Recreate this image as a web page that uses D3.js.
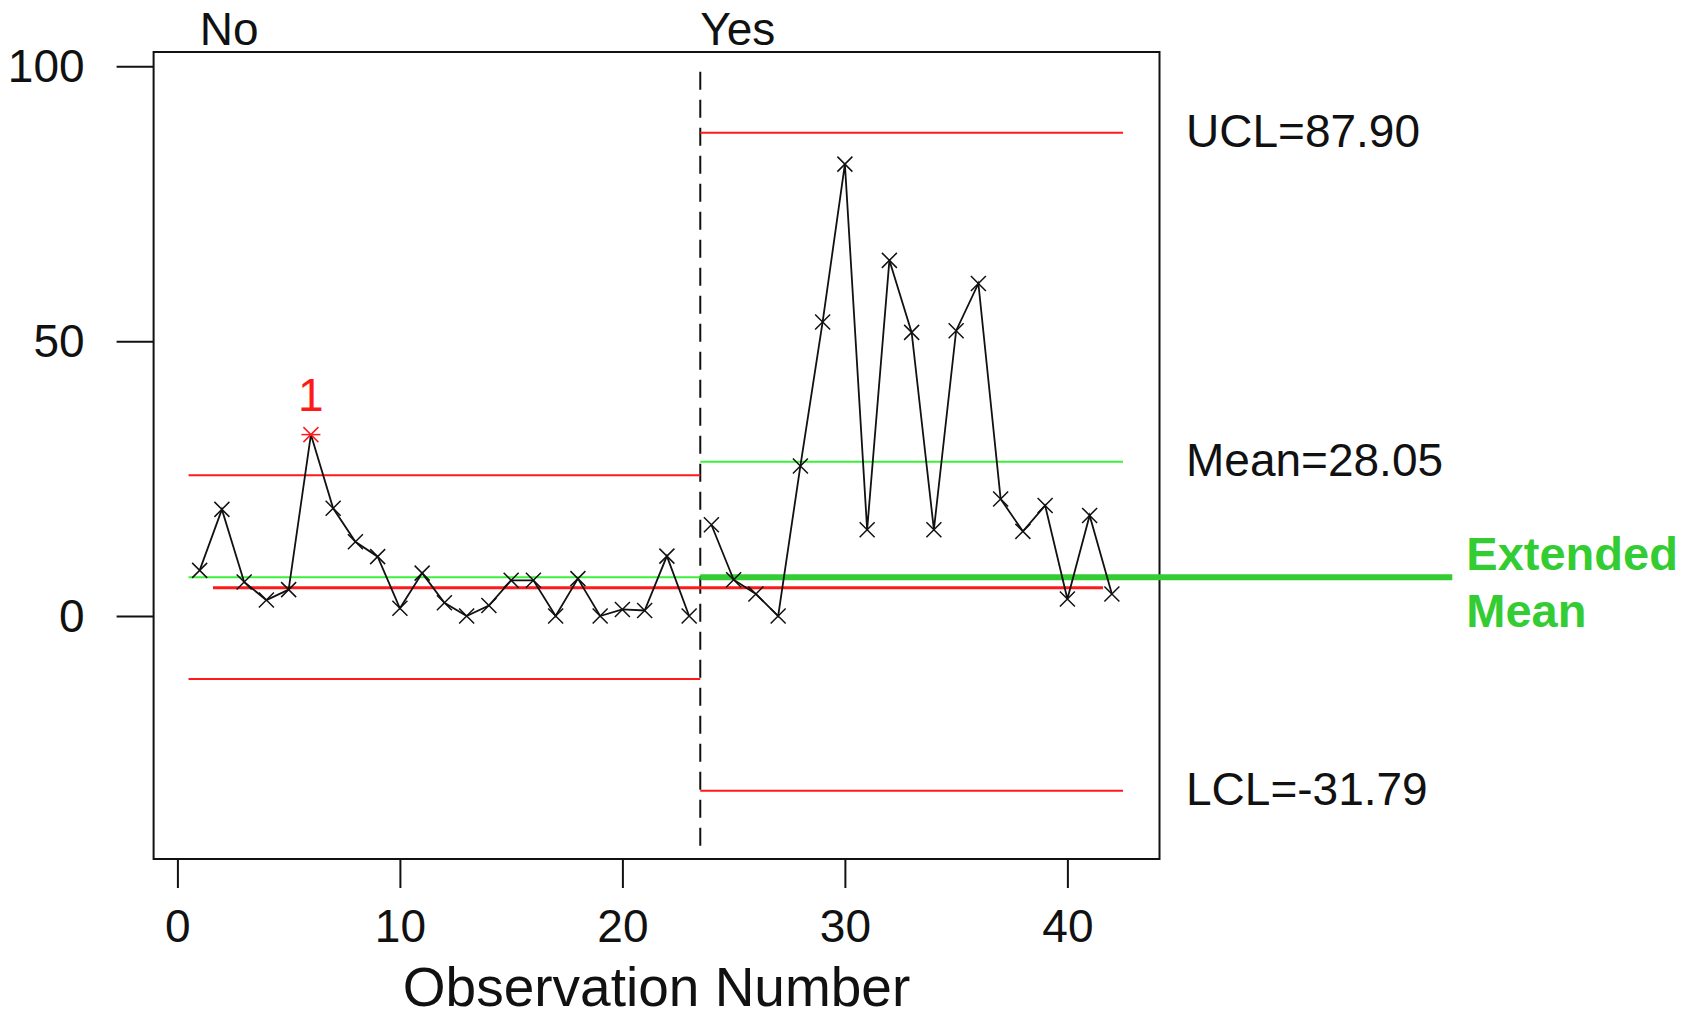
<!DOCTYPE html>
<html>
<head>
<meta charset="utf-8">
<script src="https://cdn.jsdelivr.net/npm/d3@7"></script>
<style>
  html, body { margin: 0; padding: 0; background: #fff; }
  svg { display: block; font-family: "Liberation Sans", Arial, sans-serif; }
</style>
</head>
<body>
<svg id="chart" width="1696" height="1019"></svg>
<script>
// Individual observations, by stage
const obsNo  = [8.3, 19.4, 6.2, 2.9, 4.8, 33.0, 19.6, 13.5, 10.8, 1.4, 7.8, 2.4,
                0.0, 1.9, 6.5, 6.5, 0.0, 6.8, 0.0, 1.2, 1.0, 10.9, 0.0];
const obsYes = [16.6, 6.6, 4.0, 0.0, 27.3, 53.5, 82.2, 15.7, 64.7, 51.6, 15.7,
                51.9, 60.5, 21.3, 15.4, 20.1, 3.1, 18.3, 4.0];

// Stages and their control limits
const stages      = ["No", "Yes"];
const stageStart  = [0.5, 23.5];
const stageEnd    = [23.5, 42.5];
const stageMean   = [7.05, 28.05];
const stageUCL    = [25.6, 87.90];
const stageLCL    = [-11.45, -31.79];

// Limit labels for the last stage
const limitNames  = ["UCL", "Mean", "LCL"];
const limitValues = [87.90, 28.05, -31.79];

// Points failing test 1
const flaggedObs  = [6];
const flagLabels  = ["1"];

// Annotation lines
const extendedMean   = 7.05;
const extendedMeanTo = 57.3;
const baselineValue  = 5.15;
const baselineFrom   = 1.6;
const baselineTo     = 41.6;

// Axis ticks
const xTicks = [0, 10, 20, 30, 40];
const yTicks = [0, 50, 100];

const svg = d3.select("#chart");
const frame = { left: 153.6, right: 1159.5, top: 52, bottom: 859 };

const x = d3.scaleLinear().domain([-1.07, 44.14]).range([frame.left, frame.right]);
const y = d3.scaleLinear().domain([-44.2, 102.6]).range([frame.bottom, frame.top]);

const data = obsNo.map((v, i) => ({ obs: i + 1, value: v, stage: 0 }))
  .concat(obsYes.map((v, i) => ({ obs: obsNo.length + i + 1, value: v, stage: 1 })));

const RED = "#ff1a1a", LIGHTGREEN = "#3cf03c", GREEN = "#33cc33";
const FONT = "Liberation Sans, Arial, sans-serif";

// Axes
const yAxis = d3.axisLeft(y).tickValues(yTicks).tickSize(37).tickPadding(32).tickFormat(d3.format("d"));
const gy = svg.append("g").attr("transform", `translate(${frame.left},0)`).call(yAxis);
gy.select(".domain").remove();
gy.selectAll(".tick line").attr("stroke", "#111").attr("stroke-width", 2);
gy.selectAll(".tick text").attr("dy", null).attr("y", 15)
  .attr("font-size", 46).attr("font-family", FONT).attr("fill", "#111");

const xAxis = d3.axisBottom(x).tickValues(xTicks).tickSize(29).tickFormat(d3.format("d"));
const gx = svg.append("g").attr("transform", `translate(0,${frame.bottom})`).call(xAxis);
gx.select(".domain").remove();
gx.selectAll(".tick line").attr("stroke", "#111").attr("stroke-width", 2);
gx.selectAll(".tick text").attr("dy", null).attr("y", 83)
  .attr("font-size", 46).attr("font-family", FONT).attr("fill", "#111");

svg.append("text")
  .attr("x", (frame.left + frame.right) / 2).attr("y", 1006)
  .attr("text-anchor", "middle").attr("font-size", 55).attr("fill", "#111")
  .text("Observation Number");

// Plot frame
svg.append("rect")
  .attr("x", frame.left).attr("y", frame.top)
  .attr("width", frame.right - frame.left).attr("height", frame.bottom - frame.top)
  .attr("fill", "none").attr("stroke", "#111").attr("stroke-width", 2);

// Stage names
svg.selectAll("text.stage").data(stages).join("text")
  .attr("class", "stage")
  .attr("x", (d, i) => x(i === 0 ? 1 : stageStart[i]))
  .attr("y", 45).attr("font-size", 46).attr("fill", "#111")
  .text(d => d);

// Stage divider
svg.append("line")
  .attr("x1", x(stageStart[1])).attr("x2", x(stageStart[1]))
  .attr("y1", y(99)).attr("y2", y(-42))
  .attr("stroke", "#111").attr("stroke-width", 2).attr("stroke-dasharray", "18,10");

// Control limits per stage
stages.forEach((s, i) => {
  [stageUCL[i], stageLCL[i]].forEach(v => {
    svg.append("line")
      .attr("x1", x(stageStart[i])).attr("x2", x(stageEnd[i]))
      .attr("y1", y(v)).attr("y2", y(v))
      .attr("stroke", RED).attr("stroke-width", 2);
  });
  svg.append("line")
    .attr("x1", x(stageStart[i])).attr("x2", x(stageEnd[i]))
    .attr("y1", y(stageMean[i])).attr("y2", y(stageMean[i]))
    .attr("stroke", LIGHTGREEN).attr("stroke-width", 2);
});

// Baseline reference and extended mean
svg.append("line")
  .attr("x1", x(baselineFrom)).attr("x2", x(baselineTo))
  .attr("y1", y(baselineValue)).attr("y2", y(baselineValue))
  .attr("stroke", RED).attr("stroke-width", 3);

svg.append("line")
  .attr("x1", x(stageStart[1])).attr("x2", x(extendedMeanTo))
  .attr("y1", y(extendedMean)).attr("y2", y(extendedMean))
  .attr("stroke", GREEN).attr("stroke-width", 6);

const extLabel = svg.append("text")
  .attr("x", x(extendedMeanTo) + 14).attr("y", y(extendedMean) - 7)
  .attr("font-size", 47).attr("font-weight", "bold").attr("fill", GREEN);
extLabel.append("tspan").text("Extended");
extLabel.append("tspan").attr("x", x(extendedMeanTo) + 14).attr("dy", 57).text("Mean");

// Data line, one per stage
const line = d3.line().x(d => x(d.obs)).y(d => y(d.value));
stages.forEach((s, i) => {
  svg.append("path")
    .datum(data.filter(d => d.stage === i))
    .attr("d", line)
    .attr("fill", "none").attr("stroke", "#111").attr("stroke-width", 1.8);
});

// Markers
const h = 7.5;
const markers = svg.append("g");
data.forEach(d => {
  const flagged = flaggedObs.includes(d.obs);
  const cx = x(d.obs), cy = y(d.value);
  const g = markers.append("g")
    .attr("stroke", flagged ? RED : "#111").attr("stroke-width", 1.5).attr("fill", "none");
  g.append("path").attr("d", `M${cx - h},${cy - h}L${cx + h},${cy + h}M${cx - h},${cy + h}L${cx + h},${cy - h}`);
  if (flagged) g.append("path").attr("d", `M${cx - h - 2},${cy}L${cx + h + 2},${cy}`);
});

// Test labels
flaggedObs.forEach((o, i) => {
  const d = data.find(p => p.obs === o);
  svg.append("text")
    .attr("x", x(o)).attr("y", y(d.value) - 24)
    .attr("text-anchor", "middle").attr("font-size", 46).attr("fill", RED)
    .text(flagLabels[i]);
});

// Limit labels for the last stage
svg.selectAll("text.limit").data(limitNames).join("text")
  .attr("class", "limit")
  .attr("x", 1186).attr("y", (d, i) => y(limitValues[i]) + 14)
  .attr("font-size", 46).attr("fill", "#111")
  .text((d, i) => `${d}=${limitValues[i].toFixed(2)}`);
</script>
</body>
</html>
